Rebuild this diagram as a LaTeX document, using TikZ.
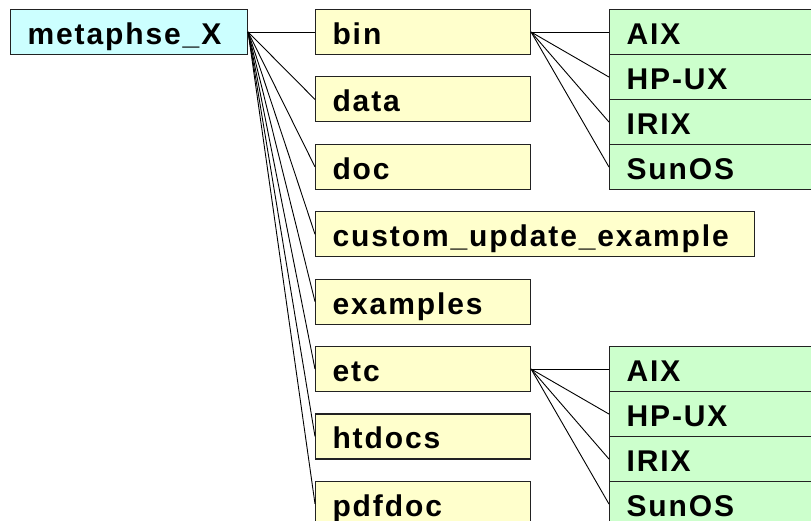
\documentclass[tikz,border=0pt]{standalone}
\usepackage{fontspec}
\setmainfont{Liberation Sans}[LetterSpace=6.3]
\definecolor{rootfill}{HTML}{CCFFFF}
\definecolor{dirfill}{HTML}{FFFFCC}
\definecolor{osfill}{HTML}{CCFFCC}
\definecolor{edge}{HTML}{222222}
\tikzset{
  box/.style={draw=edge, line width=1.1pt, rectangle, anchor=north west,
    inner xsep=17pt, inner ysep=0pt, text height=35pt, text depth=10pt,
    align=left, font=\fontsize{30}{32}\selectfont\bfseries},
  rootbox/.style={box, fill=rootfill, text width=203pt},
  dirbox/.style={box, fill=dirfill, text width=181pt},
  widebox/.style={box, fill=dirfill, text width=405pt},
  osbox/.style={box, fill=osfill, text width=200pt},
  link/.style={draw=black, line width=0.9pt}
}
\begin{document}
\begin{tikzpicture}[x=1pt,y=1pt]
\useasboundingbox (0,0) rectangle (811,-521);
\clip (0,0) rectangle (811,-521);
\node[rootbox] (root) at (10,-9) {metaphse\_X};
\node[dirbox] (bin) at (315,-9) {bin};
\node[dirbox] (data) at (315,-76.4) {data};
\node[dirbox] (doc) at (315,-143.8) {doc};
\node[widebox] (custom) at (315,-211.2) {custom\_update\_example};
\node[dirbox] (examples) at (315,-278.6) {examples};
\node[dirbox] (etc) at (315,-346) {etc};
\node[dirbox] (htdocs) at (315,-413.4) {htdocs};
\node[dirbox] (pdfdoc) at (315,-480.8) {pdfdoc};
\node[osbox] (aixa) at (609,-9) {AIX};
\node[osbox] (hpa) at (609,-54) {HP-UX};
\node[osbox] (irixa) at (609,-99) {IRIX};
\node[osbox] (suna) at (609,-144) {SunOS};
\node[osbox] (aixb) at (609,-346) {AIX};
\node[osbox] (hpb) at (609,-391) {HP-UX};
\node[osbox] (irixb) at (609,-436) {IRIX};
\node[osbox] (sunb) at (609,-481) {SunOS};
\foreach \t in {bin,data,doc,custom,examples,etc,htdocs,pdfdoc}
  \draw[link] (root.east) -- (\t.west);
\foreach \t in {aixa,hpa,irixa,suna}
  \draw[link] (bin.east) -- (\t.west);
\foreach \t in {aixb,hpb,irixb,sunb}
  \draw[link] (etc.east) -- (\t.west);
\end{tikzpicture}
\end{document}
